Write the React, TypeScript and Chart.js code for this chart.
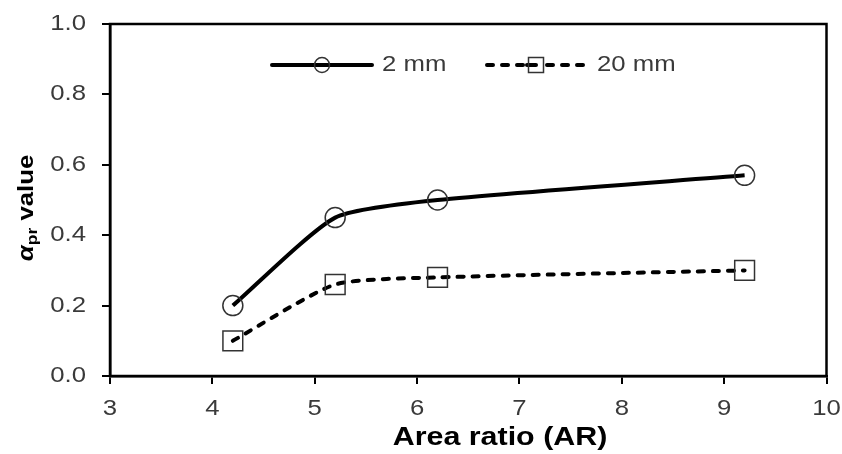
import React, { useEffect, useRef } from 'react';
import { Chart, registerables } from 'chart.js';

Chart.register(...registerables);

// ---- data ----
const arValues = [4.2, 5.2, 6.2, 9.2];
const alpha2mm = [0.2, 0.45, 0.5, 0.57];
const alpha20mm = [0.1, 0.26, 0.28, 0.3];
const seriesLabels = ['2 mm', '20 mm'];
const xTickValues = [3, 4, 5, 6, 7, 8, 9, 10];
const yTickValues = [0, 0.2, 0.4, 0.6, 0.8, 1.0];
const xTitle = 'Area ratio (AR)';
const yTitleSymbol = 'α';
const yTitleSub = 'pr';
const yTitleRest = ' value';

const FONT = '"Liberation Sans", Arial, sans-serif';
const SX = 1.17; // horizontal stretch of the original's glyphs

function drawText(
  ctx: CanvasRenderingContext2D,
  text: string,
  x: number,
  y: number,
  font: string,
  align: 'left' | 'center' | 'right',
  baseline: CanvasTextBaseline,
  color: string
) {
  ctx.save();
  ctx.font = font;
  ctx.fillStyle = color;
  ctx.textBaseline = baseline;
  ctx.textAlign = 'left';
  const w = ctx.measureText(text).width * SX;
  const x0 = align === 'center' ? x - w / 2 : align === 'right' ? x - w : x;
  ctx.translate(x0, y);
  ctx.scale(SX, 1);
  ctx.fillText(text, 0, 0);
  ctx.restore();
}

const textPlugin = {
  id: 'customText',
  afterDraw(chart: any) {
    const ctx: CanvasRenderingContext2D = chart.ctx;
    const { left, right, top, bottom } = chart.chartArea;
    const xs = chart.scales.x;
    const ys = chart.scales.y;

    // frame
    ctx.save();
    ctx.strokeStyle = '#000';
    ctx.lineWidth = 2.5;
    ctx.strokeRect(left, top, right - left, bottom - top);
    ctx.restore();

    const tickFont = `22px ${FONT}`;
    const tickColor = '#3a3a3a';
    yTickValues.forEach((v) => {
      drawText(ctx, v.toFixed(1), 86, ys.getPixelForValue(v), tickFont, 'right', 'middle', tickColor);
    });
    xTickValues.forEach((v) => {
      drawText(ctx, String(v), xs.getPixelForValue(v), 409, tickFont, 'center', 'middle', tickColor);
    });

    // x title
    drawText(ctx, xTitle, 500, 438, `bold 26px ${FONT}`, 'center', 'middle', '#000');

    // y title (rotated, with subscript)
    ctx.save();
    ctx.translate(27, 208);
    ctx.rotate(-Math.PI / 2);
    const fMain = `bold 22px ${FONT}`;
    const fAlpha = `italic bold 22px ${FONT}`;
    const fSub = `bold 15px ${FONT}`;
    ctx.font = fAlpha;
    const wA = ctx.measureText(yTitleSymbol).width * SX;
    ctx.font = fSub;
    const wS = ctx.measureText(yTitleSub).width * SX;
    ctx.font = fMain;
    const wR = ctx.measureText(yTitleRest).width * SX;
    const total = wA + wS + wR;
    let cx = -total / 2;
    drawText(ctx, yTitleSymbol, cx, 0, fAlpha, 'left', 'middle', '#000');
    cx += wA;
    drawText(ctx, yTitleSub, cx, 6, fSub, 'left', 'middle', '#000');
    cx += wS;
    drawText(ctx, yTitleRest, cx, 0, fMain, 'left', 'middle', '#000');
    ctx.restore();

    // legend
    const ly = 65;
    ctx.save();
    ctx.strokeStyle = '#000';
    ctx.lineWidth = 4;
    ctx.lineCap = 'round';
    ctx.beginPath();
    ctx.moveTo(272, ly);
    ctx.lineTo(372, ly);
    ctx.stroke();
    ctx.setLineDash([6, 9]);
    ctx.beginPath();
    ctx.moveTo(487, ly);
    ctx.lineTo(590, ly);
    ctx.stroke();
    ctx.setLineDash([]);
    ctx.lineWidth = 1.5;
    ctx.strokeStyle = '#333';
    ctx.fillStyle = '#fff';
    ctx.beginPath();
    ctx.arc(322, ly, 7.5, 0, Math.PI * 2);
    ctx.stroke();
    ctx.fillRect(528.5, ly - 7.5, 15, 15);
    ctx.beginPath();
    ctx.moveTo(527, ly);
    ctx.lineTo(536, ly);
    ctx.lineWidth = 4;
    ctx.strokeStyle = '#000';
    ctx.stroke();
    ctx.lineWidth = 1.5;
    ctx.strokeStyle = '#333';
    ctx.strokeRect(528.5, ly - 7.5, 15, 15);
    ctx.restore();
    drawText(ctx, seriesLabels[0], 382, ly, `22px ${FONT}`, 'left', 'middle', tickColor);
    drawText(ctx, seriesLabels[1], 597, ly, `22px ${FONT}`, 'left', 'middle', tickColor);
  },
};

export default function App() {
  const ref = useRef<HTMLCanvasElement | null>(null);

  useEffect(() => {
    document.body.style.margin = '0';
    const canvas = ref.current;
    if (!canvas) return;
    const chart = new Chart(canvas, {
      type: 'line',
      data: {
        datasets: [
          {
            label: seriesLabels[0],
            data: arValues.map((x, i) => ({ x, y: alpha2mm[i] })),
            borderColor: '#000',
            borderWidth: 4,
            tension: 0.2,
            pointStyle: 'circle',
            pointRadius: 10,
            pointBorderWidth: 1.5,
            pointBorderColor: '#333',
            pointBackgroundColor: 'rgba(0,0,0,0)',
          },
          {
            label: seriesLabels[1],
            data: arValues.map((x, i) => ({ x, y: alpha20mm[i] })),
            borderColor: '#000',
            borderWidth: 4,
            borderDash: [6, 9],
            borderCapStyle: 'round',
            tension: 0.2,
            pointStyle: 'rect',
            pointRadius: 14,
            pointBorderWidth: 1.5,
            pointBorderColor: '#333',
            pointBackgroundColor: 'rgba(0,0,0,0)',
          },
        ],
      },
      options: {
        responsive: false,
        animation: false,
        events: [],
        layout: { padding: { top: 24, right: 14, left: 0, bottom: 0 } },
        plugins: { legend: { display: false }, tooltip: { enabled: false } },
        scales: {
          x: {
            type: 'linear',
            min: 3,
            max: 10,
            afterFit: (s: any) => {
              s.height = 78;
            },
            afterBuildTicks: (s: any) => {
              s.ticks = xTickValues.map((v) => ({ value: v }));
            },
            ticks: { display: false },
            grid: {
              display: true,
              drawOnChartArea: false,
              drawTicks: true,
              tickLength: 8,
              color: '#000',
              lineWidth: 2,
            },
            border: { display: true, color: '#000', width: 2.5 },
          },
          y: {
            type: 'linear',
            min: 0,
            max: 1,
            afterFit: (s: any) => {
              s.width = 110;
            },
            afterBuildTicks: (s: any) => {
              s.ticks = yTickValues.map((v) => ({ value: v }));
            },
            ticks: { display: false },
            grid: {
              display: true,
              drawOnChartArea: false,
              drawTicks: true,
              tickLength: 8,
              color: '#000',
              lineWidth: 2,
            },
            border: { display: true, color: '#000', width: 2.5 },
          },
        },
      } as any,
      plugins: [textPlugin],
    });
    return () => chart.destroy();
  }, []);

  return <canvas ref={ref} width={842} height={454} style={{ display: 'block' }} />;
}
